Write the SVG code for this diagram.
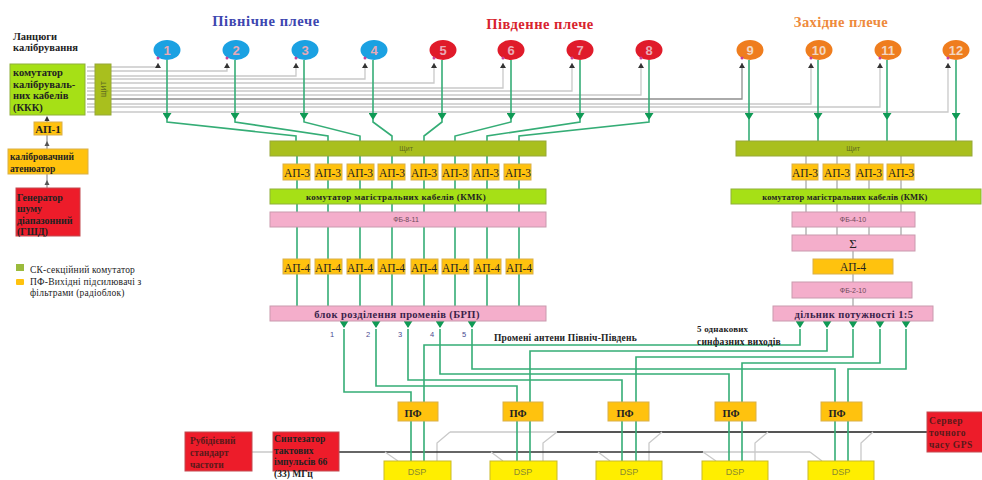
<svg xmlns="http://www.w3.org/2000/svg" width="982" height="480" viewBox="0 0 982 480">
<style>
text{font-family:"Liberation Serif","Times New Roman",serif;fill:#222}
.b{font-weight:bold}
.s{font-family:"Liberation Sans",Arial,sans-serif}
.c{text-anchor:middle}
.g{fill:none;stroke:#35ad76;stroke-width:1.6}
.k{fill:none;stroke:#c9c9c9;stroke-width:1.3}
.lime{fill:#a6e016;stroke:#8fb03a;stroke-width:1}
.olive{fill:#a9bf1e;stroke:#97a838;stroke-width:1}
.amber{fill:#ffc20e;stroke:#d9b04a;stroke-width:1}
.pink{fill:#f4aecb;stroke:#c99aae;stroke-width:1}
.red{fill:#ed1c2a;stroke:#c24a50;stroke-width:1}
.dsp{fill:#ffee00;stroke:#c9b92a;stroke-width:1}
.num{font-family:"Liberation Sans",Arial,sans-serif;font-size:13px;font-weight:bold;text-anchor:middle;fill:#e9a9b5}
</style>
<defs>
<marker id="ag" markerUnits="userSpaceOnUse" markerWidth="8" markerHeight="6" refX="4" refY="5" orient="auto-start-reverse" viewBox="0 0 8 6"><path d="M0,0H8L4,6Z" fill="#0f9a55" transform="rotate(-90 4 3)"/></marker>
<marker id="dn" markerUnits="userSpaceOnUse" markerWidth="9" markerHeight="7" refX="4.5" refY="6" orient="0" viewBox="0 0 9 7"><path d="M0,0H9L4.5,7Z" fill="#0f9a55"/></marker>
<marker id="up" markerUnits="userSpaceOnUse" markerWidth="6" markerHeight="5" refX="3" refY="0" orient="0" viewBox="0 0 6 5"><path d="M3,0L6,5H0Z" fill="#333"/></marker>
</defs>

<g id="connectors">
<g class="gray-calibration">
<path class="k" d="M87,67H158V63" marker-end="url(#up)"/>
<path class="k" d="M87,71H227V63" marker-end="url(#up)"/>
<path class="k" d="M87,76H296V63" marker-end="url(#up)"/>
<path class="k" d="M87,79H365V63" marker-end="url(#up)"/>
<path class="k" d="M87,83H434V63" marker-end="url(#up)"/>
<path class="k" d="M87,88H503V63" marker-end="url(#up)"/>
<path class="k" d="M87,91H572V63" marker-end="url(#up)"/>
<path class="k" d="M87,95H641V63" marker-end="url(#up)"/>
<path class="k" style="stroke:#8f8f8f" d="M87,99H742V63" marker-end="url(#up)"/>
<path class="k" d="M87,104H811V63" marker-end="url(#up)"/>
<path class="k" d="M87,107H880V63" marker-end="url(#up)"/>
<path class="k" d="M87,112H948V63" marker-end="url(#up)"/>
<path class="k" style="stroke:#999" d="M47,188V174M47,149V135M47,122V119"/>
<path d="M44.500,121L47,116L49.500,121Z" fill="#333"/>
<path d="M44.500,146L47,141L49.500,146Z" fill="#555"/>
<path d="M44.500,185L47,180L49.500,185Z" fill="#555"/>
</g>
<g class="feed">
<path class="g" d="M167,60V119" marker-end="url(#dn)"/><path class="g" d="M167,119V122L296,136V141"/>
<path class="g" d="M235,60V119" marker-end="url(#dn)"/><path class="g" d="M235,119V122L328,136V141"/>
<path class="g" d="M304,60V119" marker-end="url(#dn)"/><path class="g" d="M304,119V122L360,136V141"/>
<path class="g" d="M373,60V119" marker-end="url(#dn)"/><path class="g" d="M373,119V122L392,136V141"/>
<path class="g" d="M442,60V119" marker-end="url(#dn)"/><path class="g" d="M442,119V122L424,136V141"/>
<path class="g" d="M511,60V119" marker-end="url(#dn)"/><path class="g" d="M511,119V122L455,136V141"/>
<path class="g" d="M580,60V119" marker-end="url(#dn)"/><path class="g" d="M580,119V122L487,136V141"/>
<path class="g" d="M649,60V119" marker-end="url(#dn)"/><path class="g" d="M649,119V122L519,136V141"/>
<path class="g" d="M749,60V119" marker-end="url(#dn)"/><path class="g" d="M749,119V141"/>
<path class="g" d="M818,60V119" marker-end="url(#dn)"/><path class="g" d="M818,119V141"/>
<path class="g" d="M887,60V119" marker-end="url(#dn)"/><path class="g" d="M887,119V141"/>
<path class="g" d="M956,60V119" marker-end="url(#dn)"/><path class="g" d="M956,119V141"/>
</g>
<g class="north-south-chains">
<path class="g" d="M297,156V306M328,156V306M360,156V306M392,156V306M424,156V306M455,156V306M487,156V306M519,156V306"/>
</g>
<g class="west-chain">
<path class="k" style="stroke:#aaa" d="M806,156V235M837,156V235M869,156V235M901,156V235M853,251V306"/>
</g>
<g class="bus">
<path fill="none" stroke="#555" stroke-width="2" d="M557,432H927"/>
<path class="k" d="M450,432H557"/>
<path class="k" d="M437,461V443L450,432M543,461V443L557,432M649,461V443L662,432M755,461V443L768,432M861,461V443L873,432"/>
<path fill="none" stroke="#333" stroke-width="1.300" d="M339,452H703"/>
<path class="k" d="M703,452H810M252,452H273"/>
<path class="k" d="M385,452L398,461M491,452L503,461M598,452L610,461M703,452L716,461M810,452L822,461"/>
</g>
<g class="outputs">
<path class="g" d="M344,329V392H411V461" /><path class="g" d="M344,321V327" marker-end="url(#dn)"/>
<path class="g" d="M376,329V386H517V461"/><path class="g" d="M376,321V327" marker-end="url(#dn)"/>
<path class="g" d="M408,329V380H622V461"/><path class="g" d="M408,321V327" marker-end="url(#dn)"/>
<path class="g" d="M440,329V374H729V461"/><path class="g" d="M440,321V327" marker-end="url(#dn)"/>
<path class="g" d="M472,329V369H835V461"/><path class="g" d="M472,321V327" marker-end="url(#dn)"/>
<path class="g" d="M800,329V345H424V461"/><path class="g" d="M800,321V327" marker-end="url(#dn)"/>
<path class="g" d="M827,329V351H530V461"/><path class="g" d="M827,321V327" marker-end="url(#dn)"/>
<path class="g" d="M853,329V357H636V461"/><path class="g" d="M853,321V327" marker-end="url(#dn)"/>
<path class="g" d="M880,329V363H742V461"/><path class="g" d="M880,321V327" marker-end="url(#dn)"/>
<path class="g" d="M906,329V369H848V461"/><path class="g" d="M906,321V327" marker-end="url(#dn)"/>
</g>
</g>

<g id="titles">
<text class="b" x="266" y="26" text-anchor="middle" font-size="14.500" style="fill:#3d46b0;letter-spacing:.6px">Північне плече</text>
<text class="b" x="540" y="29" text-anchor="middle" font-size="14.500" style="fill:#d8232e;letter-spacing:.5px">Південне плече</text>
<text class="b" x="841" y="27" text-anchor="middle" font-size="14.500" style="fill:#ee8a3c;letter-spacing:.4px">Західне плече</text>
<text class="b" x="13" y="40" font-size="10.500">Ланцюги</text>
<text class="b" x="13" y="51" font-size="10.500">калібрування</text>
</g>

<g id="ant1"><ellipse cx="167" cy="50" rx="13.500" ry="10" fill="#1ba1e2"/><text class="num" x="167" y="55">1</text></g>
<g id="ant2"><ellipse cx="236" cy="50" rx="13.500" ry="10" fill="#1ba1e2"/><text class="num" x="236" y="55">2</text></g>
<g id="ant3"><ellipse cx="305" cy="50" rx="13.500" ry="10" fill="#1ba1e2"/><text class="num" x="305" y="55">3</text></g>
<g id="ant4"><ellipse cx="374" cy="50" rx="13.500" ry="10" fill="#1ba1e2"/><text class="num" x="374" y="55">4</text></g>
<g id="ant5"><ellipse cx="443" cy="50" rx="13.500" ry="10" fill="#e01b2a"/><text class="num" x="443" y="55">5</text></g>
<g id="ant6"><ellipse cx="511" cy="50" rx="13.500" ry="10" fill="#e01b2a"/><text class="num" x="511" y="55">6</text></g>
<g id="ant7"><ellipse cx="580" cy="50" rx="13.500" ry="10" fill="#e01b2a"/><text class="num" x="580" y="55">7</text></g>
<g id="ant8"><ellipse cx="649" cy="50" rx="13.500" ry="10" fill="#e01b2a"/><text class="num" x="649" y="55">8</text></g>
<g id="ant9"><ellipse cx="750" cy="50" rx="13.500" ry="10" fill="#ef7d1e"/><text class="num" style="fill:#f3d6c0" x="750" y="55">9</text></g>
<g id="ant10"><ellipse cx="819" cy="50" rx="13.500" ry="10" fill="#ef7d1e"/><text class="num" style="fill:#f3d6c0" x="819" y="55">10</text></g>
<g id="ant11"><ellipse cx="888" cy="50" rx="13.500" ry="10" fill="#ef7d1e"/><text class="num" style="fill:#f3d6c0" x="888" y="55">11</text></g>
<g id="ant12"><ellipse cx="956" cy="50" rx="13.500" ry="10" fill="#ef7d1e"/><text class="num" style="fill:#f3d6c0" x="956" y="55">12</text></g>

<g id="dots" fill="#c8409a">
<circle cx="158" cy="58" r="1.500"/><circle cx="227" cy="58" r="1.500"/><circle cx="296" cy="58" r="1.500"/><circle cx="365" cy="58" r="1.500"/><circle cx="434" cy="58" r="1.500"/><circle cx="503" cy="58" r="1.500"/><circle cx="572" cy="58" r="1.500"/><circle cx="641" cy="58" r="1.500"/><circle cx="742" cy="58" r="1.500"/><circle cx="811" cy="58" r="1.500"/><circle cx="880" cy="58" r="1.500"/><circle cx="948" cy="58" r="1.500"/>
</g>

<g id="kkk"><rect class="lime" x="10" y="64" width="75" height="51"/>
<text class="b" x="13" y="76" font-size="10.500">комутатор</text>
<text class="b" x="13" y="88" font-size="10.500">калібруваль-</text>
<text class="b" x="13" y="99" font-size="10.500">них кабелів</text>
<text class="b" x="13" y="111" font-size="10.500">(ККК)</text></g>
<g id="shield-v"><rect class="olive" x="95" y="64" width="16" height="51"/><text class="s c" transform="translate(106,89) rotate(-90)" font-size="7" style="fill:#5d6a20">ЩИТ</text></g>
<g id="ap1"><rect class="amber" x="34" y="122" width="28" height="13"/><text class="b c" x="48" y="133" font-size="11">АП-1</text></g>
<g id="attenuator"><rect class="amber" x="8" y="149" width="80" height="25"/>
<text class="b" x="10" y="160" font-size="9.500">калібровачний</text>
<text class="b" x="10" y="172" font-size="9.500">атенюатор</text></g>
<g id="gshd"><rect class="red" x="16" y="188" width="64" height="48"/>
<text class="b" x="17" y="201" font-size="10">Генератор</text>
<text class="b" x="17" y="212" font-size="10">шуму</text>
<text class="b" x="17" y="224" font-size="10">діапазонний</text>
<text class="b" x="17" y="235" font-size="10">(ГШД)</text></g>

<g id="legend">
<rect x="16" y="264" width="8" height="7" fill="#9bbb3c"/>
<rect x="16" y="279" width="8" height="6" rx="1" fill="#ffc20e"/>
<text x="30" y="273" font-size="9.500" style="letter-spacing:.2px">СК-секційний комутатор</text>
<text x="30" y="285" font-size="9.500" style="letter-spacing:.2px">ПФ-Вихідні підсилювачі з</text>
<text x="30" y="296" font-size="9.500" style="letter-spacing:.2px">фільтрами (радіоблок)</text>
</g>

<g id="shield-left"><rect class="olive" x="270" y="141" width="276" height="15"/><text class="s c" x="406" y="151" font-size="7" style="fill:#5d6a20">Щит</text></g>
<g id="ap3-l1"><rect class="amber" x="283" y="164" width="27" height="16"/><text class="c" x="297" y="177" font-size="11.500">АП-3</text></g>
<g id="ap3-l2"><rect class="amber" x="315" y="164" width="27" height="16"/><text class="c" x="328" y="177" font-size="11.500">АП-3</text></g>
<g id="ap3-l3"><rect class="amber" x="347" y="164" width="27" height="16"/><text class="c" x="360" y="177" font-size="11.500">АП-3</text></g>
<g id="ap3-l4"><rect class="amber" x="378" y="164" width="27" height="16"/><text class="c" x="392" y="177" font-size="11.500">АП-3</text></g>
<g id="ap3-l5"><rect class="amber" x="411" y="164" width="27" height="16"/><text class="c" x="424" y="177" font-size="11.500">АП-3</text></g>
<g id="ap3-l6"><rect class="amber" x="442" y="164" width="27" height="16"/><text class="c" x="455" y="177" font-size="11.500">АП-3</text></g>
<g id="ap3-l7"><rect class="amber" x="472" y="164" width="27" height="16"/><text class="c" x="486" y="177" font-size="11.500">АП-3</text></g>
<g id="ap3-l8"><rect class="amber" x="504" y="164" width="27" height="16"/><text class="c" x="518" y="177" font-size="11.500">АП-3</text></g>
<g id="kmk-left"><rect class="lime" x="270" y="189" width="276" height="15"/><text class="b c" x="396" y="200" font-size="9" style="letter-spacing:.35px">комутатор магістральних кабелів (КМК)</text></g>
<g id="fb-8-11"><rect class="pink" x="270" y="212" width="276" height="15"/><text class="s c" x="406" y="222" font-size="7" style="fill:#6e4a5a">ФБ-8-11</text></g>
<g id="ap4-l1"><rect class="amber" x="283" y="259" width="27" height="15"/><text class="c" x="297" y="272" font-size="11.500">АП-4</text></g>
<g id="ap4-l2"><rect class="amber" x="315" y="259" width="27" height="15"/><text class="c" x="328" y="272" font-size="11.500">АП-4</text></g>
<g id="ap4-l3"><rect class="amber" x="347" y="259" width="27" height="15"/><text class="c" x="360" y="272" font-size="11.500">АП-4</text></g>
<g id="ap4-l4"><rect class="amber" x="378" y="259" width="27" height="15"/><text class="c" x="392" y="272" font-size="11.500">АП-4</text></g>
<g id="ap4-l5"><rect class="amber" x="411" y="259" width="27" height="15"/><text class="c" x="424" y="272" font-size="11.500">АП-4</text></g>
<g id="ap4-l6"><rect class="amber" x="442" y="259" width="27" height="15"/><text class="c" x="455" y="272" font-size="11.500">АП-4</text></g>
<g id="ap4-l7"><rect class="amber" x="474" y="259" width="27" height="15"/><text class="c" x="487" y="272" font-size="11.500">АП-4</text></g>
<g id="ap4-l8"><rect class="amber" x="506" y="259" width="27" height="15"/><text class="c" x="519" y="272" font-size="11.500">АП-4</text></g>
<g id="brp"><rect class="pink" x="270" y="306" width="276" height="15"/><text class="b c" x="397" y="318" font-size="10.500" style="letter-spacing:.4px;fill:#3a1f4a">блок розділення променів (БРП)</text></g>

<g id="shield-right"><rect class="olive" x="736" y="141" width="236" height="15"/><text class="s c" x="853" y="151" font-size="7" style="fill:#5d6a20">Щит</text></g>
<g id="ap3-r1"><rect class="amber" x="792" y="164" width="26" height="16"/><text class="c" x="805" y="177" font-size="11.500">АП-3</text></g>
<g id="ap3-r2"><rect class="amber" x="823" y="164" width="27" height="16"/><text class="c" x="837" y="177" font-size="11.500">АП-3</text></g>
<g id="ap3-r3"><rect class="amber" x="856" y="164" width="27" height="16"/><text class="c" x="869" y="177" font-size="11.500">АП-3</text></g>
<g id="ap3-r4"><rect class="amber" x="887" y="164" width="27" height="16"/><text class="c" x="901" y="177" font-size="11.500">АП-3</text></g>
<g id="kmk-right"><rect class="lime" x="731" y="189" width="250" height="15"/><text class="b c" x="845" y="200" font-size="8.500" style="letter-spacing:.2px">комутатор магістральних кабелів (КМК)</text></g>
<g id="fb-4-10"><rect class="pink" x="792" y="212" width="123" height="15"/><text class="s c" x="853" y="222" font-size="7" style="fill:#6e4a5a">ФБ-4-10</text></g>
<g id="sum"><rect class="pink" x="792" y="235" width="123" height="16"/><text class="c" x="853" y="248" font-size="13">Σ</text></g>
<g id="ap4-r"><rect class="amber" x="813" y="259" width="80" height="15"/><text class="c" x="853" y="271" font-size="11.500">АП-4</text></g>
<g id="fb-2-10"><rect class="pink" x="792" y="282" width="120" height="16"/><text class="s c" x="853" y="293" font-size="7" style="fill:#6e4a5a">ФБ-2-10</text></g>
<g id="divider"><rect class="pink" x="773" y="306" width="160" height="15"/><text class="b c" x="854" y="318" font-size="10.500" style="letter-spacing:.4px;fill:#3a1f4a">дільник потужності 1:5</text></g>

<g id="labels">
<text class="s c" x="332" y="337" font-size="7.500" style="fill:#4a4a90">1</text>
<text class="s c" x="368" y="337" font-size="7.500" style="fill:#4a4a90">2</text>
<text class="s c" x="400" y="337" font-size="7.500" style="fill:#4a4a90">3</text>
<text class="s c" x="432" y="337" font-size="7.500" style="fill:#4a4a90">4</text>
<text class="s c" x="464" y="337" font-size="7.500" style="fill:#4a4a90">5</text>
<text class="b" x="494" y="341" font-size="9.500" style="letter-spacing:.2px">Промені антени Північ-Південь</text>
<text class="b" x="697" y="332" font-size="9" style="letter-spacing:.2px">5 однакових</text>
<text class="b" x="697" y="345" font-size="9.500" style="letter-spacing:.2px">синфазних виходів</text>
</g>

<g id="pf1"><rect class="amber" x="398" y="402" width="40" height="19"/><text class="b c" x="413" y="417" font-size="10.500">ПФ</text></g>
<g id="pf2"><rect class="amber" x="503" y="402" width="40" height="19"/><text class="b c" x="518" y="417" font-size="10.500">ПФ</text></g>
<g id="pf3"><rect class="amber" x="608" y="402" width="41" height="19"/><text class="b c" x="625" y="417" font-size="10.500">ПФ</text></g>
<g id="pf4"><rect class="amber" x="715" y="402" width="41" height="19"/><text class="b c" x="731" y="417" font-size="10.500">ПФ</text></g>
<g id="pf5"><rect class="amber" x="821" y="402" width="41" height="19"/><text class="b c" x="837" y="417" font-size="10.500">ПФ</text></g>

<g id="dsp1"><rect class="dsp" x="384" y="461" width="67" height="22"/><text class="s c" x="417" y="475" font-size="9" style="fill:#8a8a30">DSP</text></g>
<g id="dsp2"><rect class="dsp" x="490" y="461" width="67" height="22"/><text class="s c" x="523" y="475" font-size="9" style="fill:#8a8a30">DSP</text></g>
<g id="dsp3"><rect class="dsp" x="596" y="461" width="66" height="22"/><text class="s c" x="629" y="475" font-size="9" style="fill:#8a8a30">DSP</text></g>
<g id="dsp4"><rect class="dsp" x="702" y="461" width="66" height="22"/><text class="s c" x="735" y="475" font-size="9" style="fill:#8a8a30">DSP</text></g>
<g id="dsp5"><rect class="dsp" x="808" y="461" width="66" height="22"/><text class="s c" x="841" y="475" font-size="9" style="fill:#8a8a30">DSP</text></g>

<g id="rubidium"><rect class="red" x="185" y="432" width="67" height="39"/>
<text class="b" x="190" y="444" font-size="9.500" style="fill:#5a1a1a">Рубідієвий</text>
<text class="b" x="190" y="456" font-size="9.500" style="fill:#5a1a1a">стандарт</text>
<text class="b" x="190" y="468" font-size="9.500" style="fill:#5a1a1a">частоти</text></g>
<g id="synth"><rect class="red" x="273" y="432" width="66" height="39"/>
<text class="b" x="274" y="442" font-size="9.500" style="letter-spacing:.2px">Синтезатор</text>
<text class="b" x="274" y="454" font-size="9.500">тактових</text>
<text class="b" x="274" y="465" font-size="9.500">імпульсів 66</text>
<text class="b" x="274" y="477" font-size="9.500">(33) МГц</text></g>
<g id="gps"><rect class="red" x="927" y="412" width="56" height="40"/>
<text class="b" x="929" y="424" font-size="9.500" style="letter-spacing:.5px;fill:#5a1a1a">Сервер</text>
<text class="b" x="929" y="436" font-size="9.500" style="letter-spacing:.5px;fill:#5a1a1a">точного</text>
<text class="b" x="929" y="448" font-size="9.500" style="letter-spacing:.5px;fill:#5a1a1a">часу  GPS</text></g>
</svg>
